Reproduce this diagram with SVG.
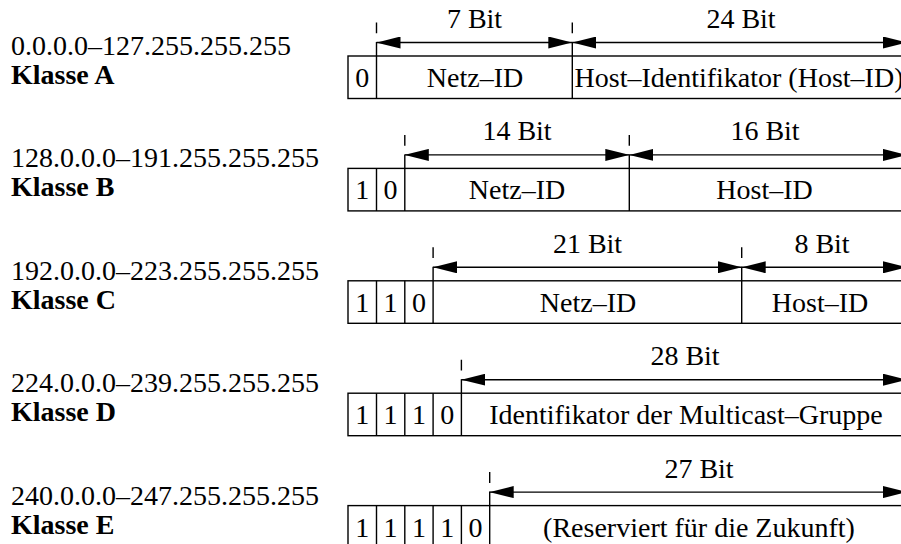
<svg xmlns="http://www.w3.org/2000/svg" width="901" height="544" viewBox="0 0 901 544" font-family="'Liberation Serif', 'Times New Roman', Tinos, 'DejaVu Serif', serif">
<defs>
<marker id="ah" viewBox="0 0 24 12" markerWidth="24" markerHeight="12" refX="24" refY="6" orient="auto-start-reverse" markerUnits="userSpaceOnUse"><path d="M0,0 L24,6 L0,12 z" fill="#000"/></marker>
<style>
text{font-family:'Liberation Serif','Times New Roman',Tinos,'DejaVu Serif',serif;font-size:28px;fill:#000}
.b{font-weight:bold}
.c{text-anchor:middle}
.box{fill:#fff;stroke:#000;stroke-width:1.4}
.ln{stroke:#000;stroke-width:1.4;fill:none}
.arr{stroke:#000;stroke-width:1.4;fill:none;marker-start:url(#ah);marker-end:url(#ah)}
</style>
</defs>
<rect width="901" height="544" fill="#fff"/>
<g id="classA">
<text x="11" y="55">0.0.0.0–127.255.255.255</text>
<text class="b" x="11" y="84">Klasse A</text>
<rect class="box" x="348" y="56" width="561" height="42.5"/>
<path class="ln" d="M376.5,56V98.5M572.3,56V98.5"/>
<text class="c" x="362.2" y="87">0</text>
<text class="c" x="475" y="87">Netz–ID</text>
<text class="c" x="739" y="87">Host–Identifikator (Host–ID)</text>
<text class="c" x="474.5" y="28">7 Bit</text>
<text class="c" x="741" y="28">24 Bit</text>
</g>
<g id="classB">
<text x="11" y="167.4">128.0.0.0–191.255.255.255</text>
<text class="b" x="11" y="196.4">Klasse B</text>
<rect class="box" x="348" y="168.4" width="561" height="42.5"/>
<path class="ln" d="M376.5,168.4V210.9M404.8,168.4V210.9M629.3,168.4V210.9"/>
<text class="c" x="362.2" y="199.4">1</text>
<text class="c" x="390.6" y="199.4">0</text>
<text class="c" x="517" y="199.4">Netz–ID</text>
<text class="c" x="764.5" y="199.4">Host–ID</text>
<text class="c" x="517" y="140.4">14 Bit</text>
<text class="c" x="765" y="140.4">16 Bit</text>
</g>
<g id="classC">
<text x="11" y="279.8">192.0.0.0–223.255.255.255</text>
<text class="b" x="11" y="308.8">Klasse C</text>
<rect class="box" x="348" y="280.8" width="561" height="42.5"/>
<path class="ln" d="M376.5,280.8V323.3M404.8,280.8V323.3M433.1,280.8V323.3M741.7,280.8V323.3"/>
<text class="c" x="362.2" y="311.8">1</text>
<text class="c" x="390.6" y="311.8">1</text>
<text class="c" x="419" y="311.8">0</text>
<text class="c" x="588" y="311.8">Netz–ID</text>
<text class="c" x="820" y="311.8">Host–ID</text>
<text class="c" x="587.5" y="252.8">21 Bit</text>
<text class="c" x="822" y="252.8">8 Bit</text>
</g>
<g id="classD">
<text x="11" y="392.2">224.0.0.0–239.255.255.255</text>
<text class="b" x="11" y="421.2">Klasse D</text>
<rect class="box" x="348" y="393.2" width="561" height="42.5"/>
<path class="ln" d="M376.5,393.2V435.7M404.8,393.2V435.7M433.1,393.2V435.7M461.4,393.2V435.7"/>
<text class="c" x="362.2" y="424.2">1</text>
<text class="c" x="390.6" y="424.2">1</text>
<text class="c" x="419" y="424.2">1</text>
<text class="c" x="447.3" y="424.2">0</text>
<text class="c" x="686" y="424.2">Identifikator der Multicast–Gruppe</text>
<text class="c" x="685" y="365.2">28 Bit</text>
</g>
<g id="classE">
<text x="11" y="504.6">240.0.0.0–247.255.255.255</text>
<text class="b" x="11" y="533.6">Klasse E</text>
<rect class="box" x="348" y="505.6" width="561" height="42.5"/>
<path class="ln" d="M376.5,505.6V548M404.8,505.6V548M433.1,505.6V548M461.4,505.6V548M489.7,505.6V548"/>
<text class="c" x="362.2" y="536.6">1</text>
<text class="c" x="390.6" y="536.6">1</text>
<text class="c" x="419" y="536.6">1</text>
<text class="c" x="447.3" y="536.6">1</text>
<text class="c" x="475.6" y="536.6">0</text>
<text class="c" x="699" y="536.6">(Reserviert für die Zukunft)</text>
<text class="c" x="699" y="477.6">27 Bit</text>
</g>
<g id="connectors">
<path class="ln" d="M376.5,22.5V33.3M376.5,42V56M572.3,22.5V33.3M572.3,42V56"/>
<path class="arr" d="M376.5,42.5H572.3"/>
<path class="arr" d="M572.3,42.5H907"/>
<path class="ln" d="M404.8,134.9V145.7M404.8,154.4V168.4M629.3,134.9V145.7M629.3,154.4V168.4"/>
<path class="arr" d="M404.8,154.9H629.3"/>
<path class="arr" d="M629.3,154.9H907"/>
<path class="ln" d="M433.1,247.3V258.1M433.1,266.8V280.8M741.7,247.3V258.1M741.7,266.8V280.8"/>
<path class="arr" d="M433.1,267.3H741.7"/>
<path class="arr" d="M741.7,267.3H907"/>
<path class="ln" d="M461.4,359.7V370.5M461.4,379.2V393.2"/>
<path class="arr" d="M461.4,379.7H907"/>
<path class="ln" d="M489.7,472.1V482.9M489.7,491.6V505.6"/>
<path class="arr" d="M489.7,492.1H907"/>
</g>
</svg>
